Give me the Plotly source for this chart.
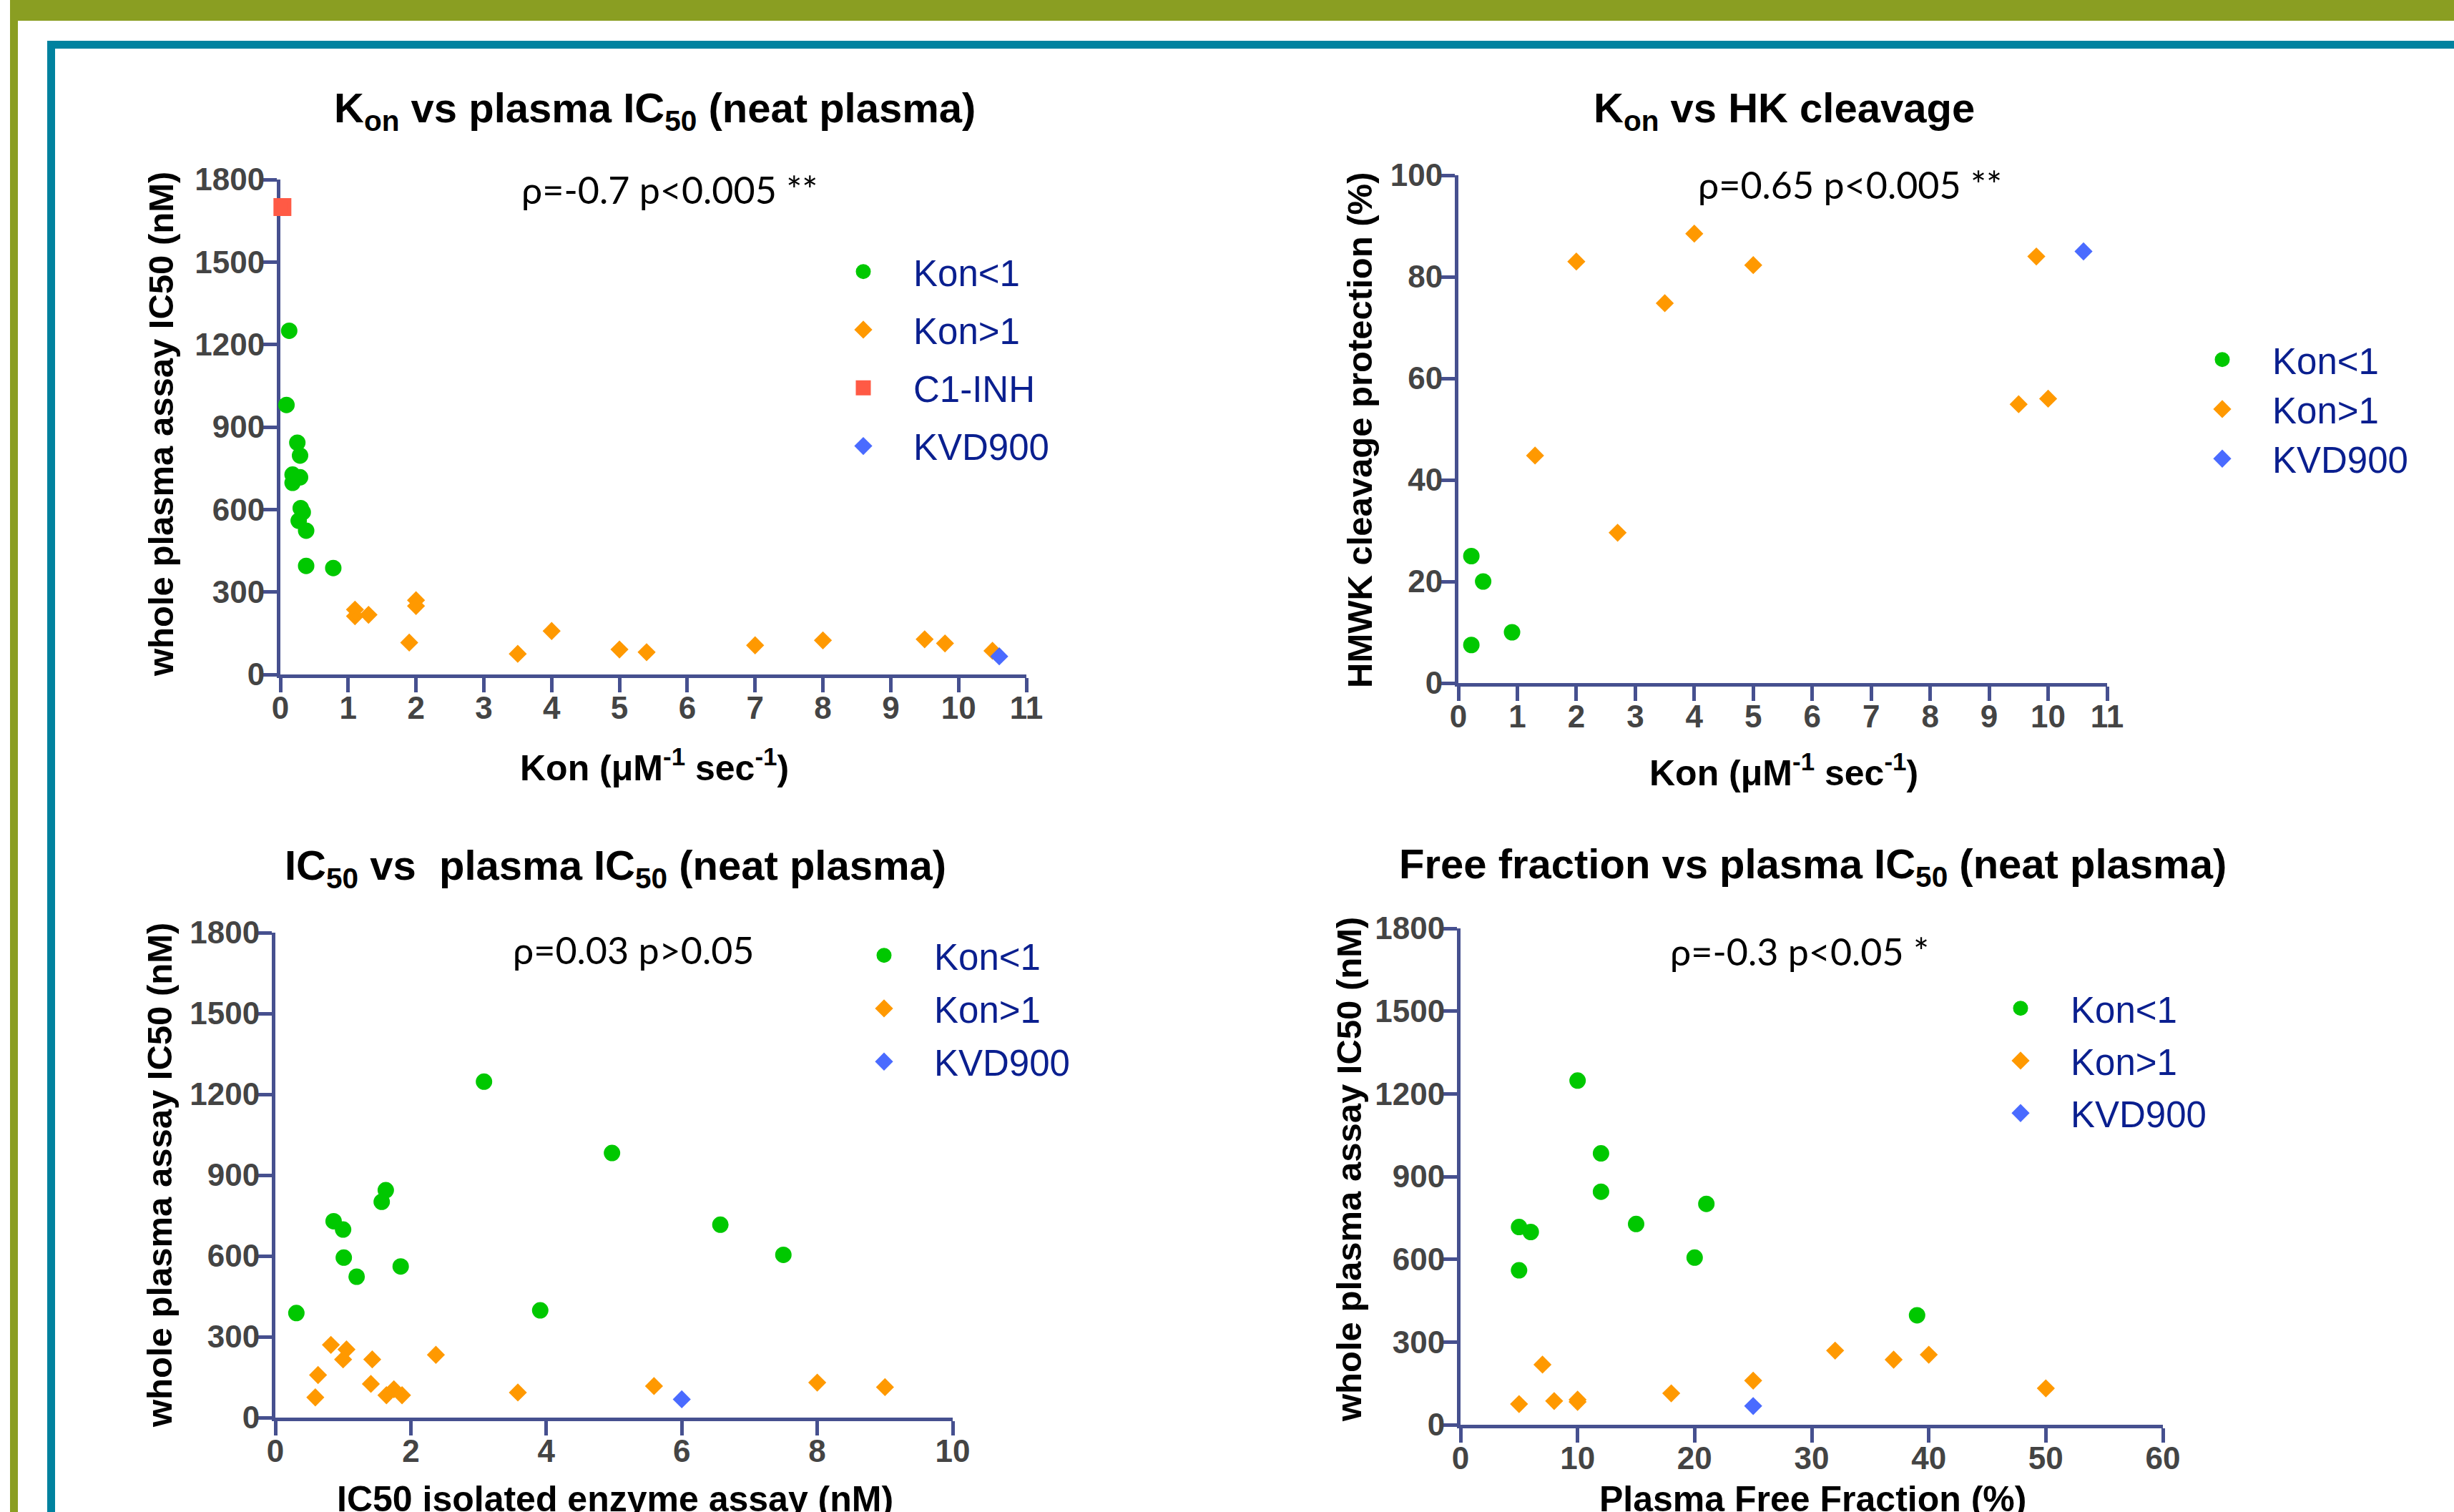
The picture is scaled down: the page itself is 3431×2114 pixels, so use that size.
import plotly.graph_objects as go

W, H = 3431, 2114

# ---------------- data ----------------
# Panel 1: Kon vs plasma IC50
p1_lt1_kon = [0.13, 0.09, 0.25, 0.29, 0.18, 0.29, 0.18, 0.30, 0.33, 0.27, 0.38, 0.38, 0.78]
p1_lt1_ic50 = [1250, 980, 843, 796, 727, 717, 697, 605, 590, 559, 523, 395, 387]
p1_gt1_kon = [1.1, 1.1, 1.3, 2.0, 2.0, 1.9, 3.5, 4.0, 5.0, 5.4, 7.0, 8.0, 9.5, 9.8, 10.5]
p1_gt1_ic50 = [236, 212, 217, 270, 249, 116, 75, 158, 91, 81, 106, 124, 128, 113, 86]
p1_c1inh_kon = [0.03]
p1_c1inh_ic50 = [1700]
p1_kvd_kon = [10.6]
p1_kvd_ic50 = [66]

# Panel 2: Kon vs HK cleavage
p2_lt1_kon = [0.22, 0.42, 0.22, 0.91]
p2_lt1_prot = [25, 20, 7.5, 10]
p2_gt1_kon = [2.0, 4.0, 5.0, 3.5, 1.3, 2.7, 9.8, 9.5, 10.0]
p2_gt1_prot = [83, 88.5, 82.3, 74.8, 44.8, 29.6, 84, 54.9, 56]
p2_kvd_kon = [10.6]
p2_kvd_prot = [85]

# Panel 3: isolated enzyme IC50 vs plasma IC50
p3_lt1_ic50 = [0.31, 3.08, 4.97, 1.63, 1.57, 0.86, 1.0, 1.01, 1.2, 1.85, 6.57, 7.5, 3.91]
p3_lt1_plasma = [388, 1247, 982, 844, 801, 729, 698, 594, 523, 561, 716, 604, 398]
p3_gt1_ic50 = [0.82, 1.05, 1.0, 1.43, 0.63, 0.59, 1.41, 1.64, 1.75, 1.87, 2.37, 3.58, 5.59, 8.0, 9.0]
p3_gt1_plasma = [270, 253, 216, 216, 158, 75, 125, 83, 105, 83, 233, 93, 117, 130, 113]
p3_kvd_ic50 = [6.0]
p3_kvd_plasma = [68]

# Panel 4: plasma free fraction vs plasma IC50
p4_lt1_ff = [10, 12, 12, 15, 21, 5, 6, 5, 20, 39]
p4_lt1_plasma = [1248, 984, 845, 728, 801, 717, 699, 560, 606, 397]
p4_gt1_ff = [5, 7, 8, 10, 10, 18, 25, 32, 37, 40, 50]
p4_gt1_plasma = [75, 218, 86, 91, 83, 114, 160, 269, 236, 254, 132]
p4_kvd_ff = [25]
p4_kvd_plasma = [68]

y_ticks_ic50 = [0, 300, 600, 900, 1200, 1500, 1800]
y_ticks_prot = [0, 20, 40, 60, 80, 100]
x_ticks_kon = list(range(0, 12))
x_ticks_enz = [0, 2, 4, 6, 8, 10]
x_ticks_ff = [0, 10, 20, 30, 40, 50, 60]

# ---------------- styles ----------------
GREEN = "#00C800"
ORANGE = "#FF9900"
RED = "#FF5A45"
BLUE = "#4A6BFF"
AXIS = "#46508F"
TICKC = "#444444"
LEGC = "#0A1F8F"
ARIAL = "Liberation Sans, Arial, sans-serif"
GILL = "Lato, Gill Sans, sans-serif"
LW = 5  # marker outline (same colour) – also enlarges legend symbols

MARKERS = {
    "circle": 18,
    "diamond": 14,
    "square": 20,
}


def px(x):
    return x / W


def py(y):
    return 1 - y / H


fig = go.Figure()


def add(x, y, name, color, symbol, xa, ya, legend):
    fig.add_trace(go.Scatter(
        x=x, y=y, mode="markers", name=name,
        marker=dict(color=color, symbol=symbol, size=MARKERS[symbol],
                    line=dict(width=LW, color=color)),
        xaxis=xa, yaxis=ya, legend=legend, cliponaxis=False,
        legendgroup=legend + name,
    ))


add(p1_lt1_kon, p1_lt1_ic50, "Kon<1", GREEN, "circle", "x", "y", "legend")
add(p1_gt1_kon, p1_gt1_ic50, "Kon>1", ORANGE, "diamond", "x", "y", "legend")
add(p1_c1inh_kon, p1_c1inh_ic50, "C1-INH", RED, "square", "x", "y", "legend")
add(p1_kvd_kon, p1_kvd_ic50, "KVD900", BLUE, "diamond", "x", "y", "legend")

add(p2_lt1_kon, p2_lt1_prot, "Kon<1", GREEN, "circle", "x2", "y2", "legend2")
add(p2_gt1_kon, p2_gt1_prot, "Kon>1", ORANGE, "diamond", "x2", "y2", "legend2")
add(p2_kvd_kon, p2_kvd_prot, "KVD900", BLUE, "diamond", "x2", "y2", "legend2")

add(p3_lt1_ic50, p3_lt1_plasma, "Kon<1", GREEN, "circle", "x3", "y3", "legend3")
add(p3_gt1_ic50, p3_gt1_plasma, "Kon>1", ORANGE, "diamond", "x3", "y3", "legend3")
add(p3_kvd_ic50, p3_kvd_plasma, "KVD900", BLUE, "diamond", "x3", "y3", "legend3")

add(p4_lt1_ff, p4_lt1_plasma, "Kon<1", GREEN, "circle", "x4", "y4", "legend4")
add(p4_gt1_ff, p4_gt1_plasma, "Kon>1", ORANGE, "diamond", "x4", "y4", "legend4")
add(p4_kvd_ff, p4_kvd_plasma, "KVD900", BLUE, "diamond", "x4", "y4", "legend4")


def axis(domain, rng, ticks, anchor, standoff):
    return dict(
        domain=domain, range=rng, tickvals=ticks, ticktext=[str(t) for t in ticks],
        showline=True, linecolor=AXIS, linewidth=5, ticks="outside", ticklen=20,
        tickwidth=5, tickcolor=AXIS, showgrid=False, zeroline=False, anchor=anchor,
        tickfont=dict(family=ARIAL, size=44, color=TICKC, weight="bold"),
        fixedrange=True, layer="below traces", automargin=False,
        ticklabelstandoff=standoff,
    )


XS, YS = -16, -12
layout_axes = {
    "xaxis": axis([px(392), px(1435)], [0, 11], x_ticks_kon, "y", XS),
    "yaxis": axis([py(943), py(251)], [0, 1800], y_ticks_ic50, "x", YS),
    "xaxis2": axis([px(2039), px(2946)], [0, 11], x_ticks_kon, "y2", XS),
    "yaxis2": axis([py(955), py(245)], [0, 100], y_ticks_prot, "x2", YS),
    "xaxis3": axis([px(385), px(1332)], [0, 10], x_ticks_enz, "y3", XS),
    "yaxis3": axis([py(1982), py(1304)], [0, 1800], y_ticks_ic50, "x3", YS),
    "xaxis4": axis([px(2042), px(3024)], [0, 60], x_ticks_ff, "y4", XS),
    "yaxis4": axis([py(1992), py(1298)], [0, 1800], y_ticks_ic50, "x4", YS),
}

ITEMW = 130
SYM_OFF = ITEMW / 2 + 4


def legend(sym_x, top, gap):
    return dict(
        x=px(sym_x - SYM_OFF), y=py(top), xanchor="left", yanchor="top",
        font=dict(family=ARIAL, size=51, color=LEGC), bgcolor="rgba(0,0,0,0)",
        itemwidth=ITEMW, tracegroupgap=gap, itemsizing="trace",
    )


annotations = []


def text(x, y, s, size, family, color="black", bold=False, angle=0):
    annotations.append(dict(
        x=px(x), y=py(y), xref="paper", yref="paper", text=s, showarrow=False,
        xanchor="center", yanchor="middle", textangle=angle,
        font=dict(family=family, size=size, color=color, weight="bold" if bold else "normal"),
    ))


# titles
text(915, 155, "K<sub>on</sub> vs plasma IC<sub>50</sub> (neat plasma)", 58, ARIAL, bold=True)
text(2494, 155, "K<sub>on</sub> vs HK cleavage", 58, ARIAL, bold=True)
text(860, 1214, "IC<sub>50</sub> vs  plasma IC<sub>50</sub> (neat plasma)", 58, ARIAL, bold=True)
text(2534, 1212, "Free fraction vs plasma IC<sub>50</sub> (neat plasma)", 58, ARIAL, bold=True)

# statistics
text(936, 265, "ρ=-0.7 p<0.005 **", 52, GILL)
text(2586, 258, "ρ=0.65 p<0.005 **", 52, GILL)
text(886, 1328, "ρ=0.03 p>0.05", 52, GILL)
text(2516, 1330, "ρ=-0.3 p<0.05 *", 52, GILL)

# axis titles
text(915, 1070, "Kon (μM<sup>-1</sup> sec<sup>-1</sup>)", 50, ARIAL, bold=True)
text(2494, 1077, "Kon (μM<sup>-1</sup> sec<sup>-1</sup>)", 50, ARIAL, bold=True)
text(860, 2096, "IC50 isolated enzyme assay (nM)", 50, ARIAL, bold=True)
text(2534, 2096, "Plasma Free Fraction (%)", 50, ARIAL, bold=True)
text(225, 593, "whole plasma assay IC50 (nM)", 49, ARIAL, bold=True, angle=-90)
text(1901, 602, "HMWK cleavage protection (%)", 49, ARIAL, bold=True, angle=-90)
text(223, 1643, "whole plasma assay IC50 (nM)", 49, ARIAL, bold=True, angle=-90)
text(1886, 1635, "whole plasma assay IC50 (nM)", 49, ARIAL, bold=True, angle=-90)

# frame bands
OLIVE = "#8A9E22"
TEAL = "#00829F"
shapes = []


def band(x0, y0, x1, y1, color):
    shapes.append(dict(type="rect", xref="paper", yref="paper",
                       x0=px(x0), x1=px(x1), y0=py(y1), y1=py(y0),
                       fillcolor=color, line=dict(width=0), layer="below"))


band(14, 0, W, 29, OLIVE)
band(14, 0, 25, H, OLIVE)
band(66, 57, W, 68, TEAL)
band(66, 57, 77, H, TEAL)

fig.update_layout(
    template="none",
    width=W, height=H, margin=dict(l=0, r=0, t=0, b=0, pad=0, autoexpand=False),
    paper_bgcolor="white", plot_bgcolor="rgba(0,0,0,0)",
    showlegend=True,
    legend=legend(1206, 340, 12),
    legend2=legend(3106, 463, 0),
    legend3=legend(1235, 1296, 5),
    legend4=legend(2824, 1370, 4),
    annotations=annotations, shapes=shapes,
    **layout_axes,
)

fig.write_html(
    "out.html",
    config={"displayModeBar": False, "staticPlot": False},
    post_script="document.body.style.margin='0';document.body.style.overflow='hidden';",
)
